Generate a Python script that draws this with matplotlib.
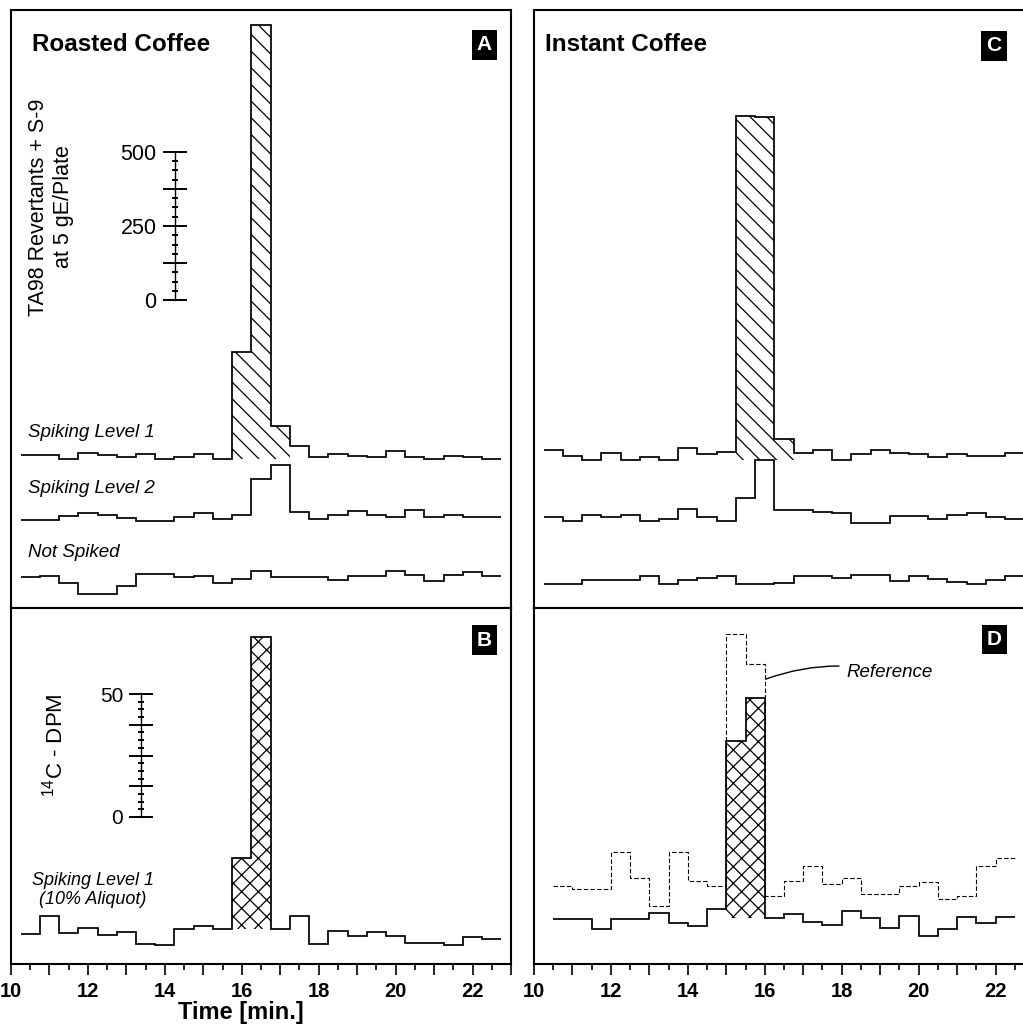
import numpy as np
import matplotlib.pyplot as plt
from matplotlib.ticker import MultipleLocator

plt.rcParams['font.family'] = ['Liberation Sans', 'DejaVu Sans']
plt.rcParams['mathtext.fontset'] = 'custom'
plt.rcParams['mathtext.rm'] = 'Liberation Sans'
plt.rcParams['hatch.linewidth'] = 0.9

# fraction edges, min
edges_abc = [10.25, 10.75, 11.25, 11.75, 12.25, 12.75, 13.25, 13.75, 14.25,
             14.75, 15.25, 15.75, 16.25, 16.75, 17.25, 17.75, 18.25, 18.75,
             19.25, 19.75, 20.25, 20.75, 21.25, 21.75, 22.25, 22.75]
edges_d = [10.5, 11.0, 11.5, 12.0, 12.5, 13.0, 13.5, 14.0, 14.5, 15.0, 15.5,
           16.0, 16.5, 17.0, 17.5, 18.0, 18.5, 19.0, 19.5, 20.0, 20.5, 21.0,
           21.5, 22.0, 22.5]

# A: roasted coffee, TA98 revertants
roast_lvl1 = [24, 24, 9, 29, 24, 16, 27, 9, 18, 27, 9, 373, 1476, 122, 55,
              16, 27, 21, 16, 38, 16, 9, 21, 18, 9]
roast_lvl2 = [7, 7, 20, 31, 24, 13, 4, 4, 16, 29, 10, 25, 144, 193, 34,
              10, 24, 36, 25, 17, 42, 18, 23, 17, 17]
roast_none = [67, 71, 48, 10, 10, 37, 78, 78, 67, 71, 46, 60, 89, 67, 67,
              67, 57, 71, 71, 89, 74, 55, 74, 83, 71]

# B: roasted coffee, 14C DPM
roast_dpm = [5.2, 12.6, 5.8, 7.6, 4.9, 6.2, 1.1, 0.8, 7.2, 8.3, 7.2, 36.3,
             126.1, 7.2, 12.6, 1.1, 6.5, 4.2, 6.2, 4.5, 1.7, 1.7, 0.8, 3.9, 3.1]

# C: instant coffee, TA98 revertants
inst_lvl1 = [40, 21, 7, 31, 7, 15, 7, 48, 27, 33, 1170, 1165, 78, 31, 40,
             7, 26, 40, 31, 27, 15, 26, 20, 20, 31]
inst_lvl2 = [25, 11, 30, 25, 30, 10, 17, 50, 25, 10, 87, 216, 47, 47, 42,
             36, 4, 4, 28, 28, 16, 30, 36, 23, 16]
inst_none = [44, 44, 57, 57, 57, 69, 44, 57, 63, 69, 43, 43, 48, 69, 69,
             63, 74, 74, 55, 69, 60, 50, 43, 57, 69]

# D: instant coffee, 14C DPM
inst_dpm = [8.4, 8.4, 4.3, 8.4, 8.4, 11.1, 7.0, 5.7, 12.5, 81.0, 98.3, 8.8,
            10.6, 7.4, 6.1, 11.9, 8.8, 4.8, 9.8, 1.7, 4.3, 9.2, 7.0, 9.2]
inst_ref = [22.0, 20.7, 20.7, 35.7, 25.1, 13.8, 35.7, 24.0, 22.0, 124.4,
            112.1, 17.9, 24.0, 30.2, 22.8, 25.1, 18.7, 18.7, 22.0, 23.7,
            16.5, 17.9, 30.1, 33.2]

# vertical offsets of the stacked traces (layout)
offs_a = [-547, -750, -1003]
offs_c = [-547, -757, -1003]
off_b = -52.8
off_d = -50.0

lw = 1.25

fig = plt.figure(figsize=(10.23, 10.31), dpi=100)
ax_a = fig.add_axes([0.01075, 0.41028, 0.48876, 0.58002])
ax_c = fig.add_axes([0.52199, 0.41028, 0.48876, 0.58002])
ax_b = fig.add_axes([0.01075, 0.06499, 0.48876, 0.34530])
ax_d = fig.add_axes([0.52199, 0.06499, 0.48876, 0.34530])

for ax in (ax_a, ax_c):
    ax.set_ylim(-1040.5, 979.7)
for ax in (ax_b, ax_d):
    ax.set_ylim(-59.8, 85)

for ax in (ax_a, ax_b, ax_c, ax_d):
    ax.set_xlim(10, 23)
    for s in ax.spines.values():
        s.set_linewidth(1.5)
    ax.set_yticks([])

for ax in (ax_a, ax_c):
    ax.set_xticks([])

for ax in (ax_b, ax_d):
    ticks = list(range(10, 24))
    ax.set_xticks(ticks)
    ax.set_xticklabels([str(t) if t % 2 == 0 else '' for t in ticks])
    ax.xaxis.set_minor_locator(MultipleLocator(0.5))
    ax.tick_params(axis='x', which='major', direction='out', length=8,
                   width=1.2, labelsize=14.5, pad=5)
    ax.tick_params(axis='x', which='minor', direction='out', length=4.5,
                   width=1.2)
    for lab in ax.get_xticklabels():
        lab.set_fontweight('bold')


def trace(ax, vals, edges, off, **kw):
    ax.stairs(np.array(vals) + off, edges, baseline=None, color='black',
              linewidth=lw, zorder=3, **kw)


def shade(ax, vals, edges, off, lo, hi, base, hatch):
    v = np.array(vals[lo:hi]) + off
    ax.stairs(v, edges[lo:hi + 1], baseline=off + base, fill=True,
              hatch=hatch, facecolor='white', edgecolor='black',
              linewidth=0, zorder=2)


# panel A
shade(ax_a, roast_lvl1, edges_abc, offs_a[0], 11, 14, 9, '\\\\')
trace(ax_a, roast_lvl1, edges_abc, offs_a[0])
trace(ax_a, roast_lvl2, edges_abc, offs_a[1])
trace(ax_a, roast_none, edges_abc, offs_a[2])

# panel C
shade(ax_c, inst_lvl1, edges_abc, offs_c[0], 10, 13, 7, '\\\\')
trace(ax_c, inst_lvl1, edges_abc, offs_c[0])
trace(ax_c, inst_lvl2, edges_abc, offs_c[1])
trace(ax_c, inst_none, edges_abc, offs_c[2])

# panel B
shade(ax_b, roast_dpm, edges_abc, off_b, 11, 13, 7.2, 'xx')
trace(ax_b, roast_dpm, edges_abc, off_b)

# panel D
shade(ax_d, inst_dpm, edges_d, off_d, 9, 11, 8.9, 'xx')
trace(ax_d, inst_dpm, edges_d, off_d)
ax_d.stairs(np.array(inst_ref) + off_d, edges_d, baseline=None,
            color='black', linewidth=0.8, linestyle=(0, (4, 2)), zorder=3)


def scale_bar(ax, x0, top, major, minor, labels, size, pad):
    sb = ax.inset_axes([x0, 0, 0.3, top], transform=ax.transData)
    sb.set_ylim(0, top)
    sb.patch.set_alpha(0)
    for k in ('top', 'right', 'bottom'):
        sb.spines[k].set_visible(False)
    sb.spines['left'].set_linewidth(1.0)
    sb.set_xticks([])
    sb.set_yticks(major)
    sb.set_yticklabels(labels)
    sb.yaxis.set_minor_locator(MultipleLocator(minor))
    sb.tick_params(axis='y', which='major', direction='inout', length=17,
                   width=1.4, labelsize=size, pad=pad)
    sb.tick_params(axis='y', which='minor', direction='inout', length=4.5,
                   width=1.4)


scale_bar(ax_a, 14.264, 500, [0, 125, 250, 375, 500], 31.25,
          ['0', '', '250', '', '500'], 15.5, 4.7)
scale_bar(ax_b, 13.38, 50, [0, 12.5, 25, 37.5, 50], 3.125,
          ['0', '', '', '', '50'], 15, 4.4)

# titles and panel letters
ax_a.text(0.042, 0.9415, 'Roasted Coffee', transform=ax_a.transAxes,
          fontsize=17.5, fontweight='bold', ha='left', va='center')
ax_c.text(0.022, 0.9415, 'Instant Coffee', transform=ax_c.transAxes,
          fontsize=17.5, fontweight='bold', ha='left', va='center')

for ax, letter, x, y in [(ax_a, 'A', 0.947, 0.9415), (ax_c, 'C', 0.92, 0.94),
                         (ax_b, 'B', 0.947, 0.910), (ax_d, 'D', 0.921, 0.911)]:
    ax.text(x, y, letter, transform=ax.transAxes, color='white',
            fontsize=15, fontweight='bold', ha='center', va='center',
            bbox=dict(boxstyle='square,pad=0.25', fc='black', ec='none'))

# trace labels
ax_a.text(0.034, 0.294, 'Spiking Level 1', transform=ax_a.transAxes,
          fontsize=13.5, style='italic', ha='left', va='center')
ax_a.text(0.034, 0.199, 'Spiking Level 2', transform=ax_a.transAxes,
          fontsize=13.5, style='italic', ha='left', va='center')
ax_a.text(0.034, 0.092, 'Not Spiked', transform=ax_a.transAxes,
          fontsize=13.5, style='italic', ha='left', va='center')
ax_b.text(0.164, 0.208, 'Spiking Level 1\n(10% Aliquot)',
          transform=ax_b.transAxes, fontsize=13, style='italic',
          ha='center', va='center', linespacing=1.15)

# axis labels
ax_a.text(0.08, 0.6706, 'TA98 Revertants + S-9\nat 5 gE/Plate',
          transform=ax_a.transAxes, rotation=90, fontsize=15.5,
          ha='center', va='center', multialignment='center', linespacing=1.2)
ax_b.text(0.088, 0.615, r'$^{14}$C - DPM', transform=ax_b.transAxes,
          rotation=90, fontsize=16, ha='center', va='center')
ax_b.text(0.46, -0.1376, 'Time [min.]', transform=ax_b.transAxes,
          fontsize=17, fontweight='bold', ha='center', va='center',
          clip_on=False)

ax_d.annotate('Reference', xy=(16.03, 56.1), xytext=(0.624, 0.82),
              textcoords='axes fraction', fontsize=13.5, style='italic',
              ha='left', va='center',
              arrowprops=dict(arrowstyle='-', color='black', lw=1.0,
                              connectionstyle='arc3,rad=0.15',
                              shrinkA=3, shrinkB=0))

fig.savefig('out.png', dpi=100)
